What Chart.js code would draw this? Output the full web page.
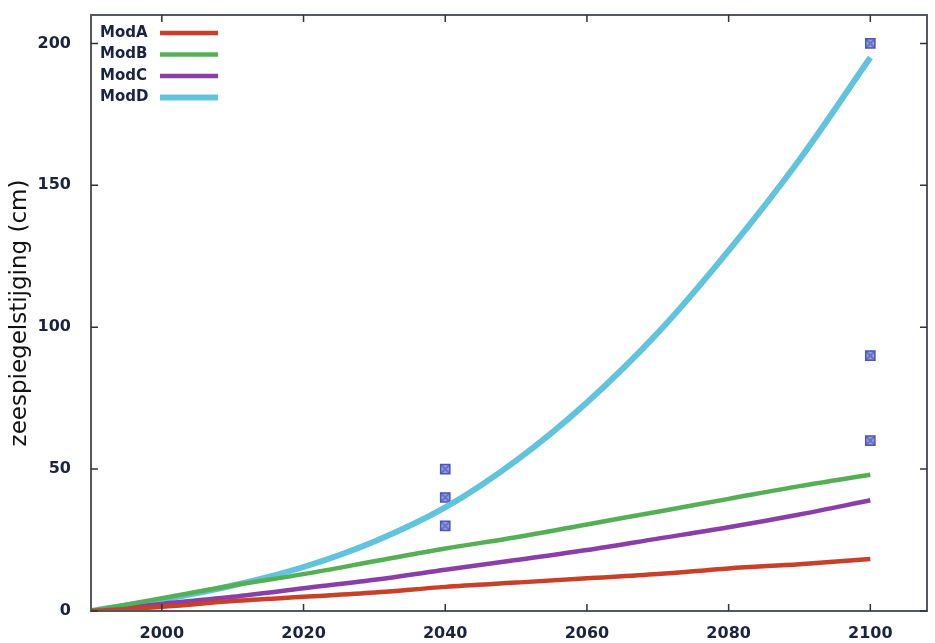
<!DOCTYPE html>
<html>
<head>
<meta charset="utf-8">
<script src="https://cdn.jsdelivr.net/npm/chart.js@4"></script>
<style>
  html, body { margin: 0; padding: 0; background: #fff; }
  #wrap { width: 935px; height: 643px; }
</style>
</head>
<body>
<div id="wrap"><canvas id="chart" width="935" height="643"></canvas></div>
<script>
const years = [1990, 2000, 2010, 2020, 2030, 2040, 2050, 2060, 2070, 2080, 2090, 2100]
const modA = [0, 1.5, 3.5, 5, 6.5, 8.5, 10, 11.5, 13, 15, 16.5, 18.3]
const modB = [0, 4.5, 9, 13, 17.5, 22, 26, 30.5, 35, 39.5, 44, 48]
const modC = [0, 2.5, 5, 8, 11, 14.5, 18, 21.5, 25.5, 29.5, 34, 39]
const modD = [0, 4, 9, 15.5, 24.5, 36.5, 53, 73.5, 98, 127, 159, 195]

const obsYears = [2040, 2040, 2040, 2100, 2100, 2100]
const obsValues = [30, 40, 50, 60, 90, 200]

const xTicks = [2000, 2020, 2040, 2060, 2080, 2100]
const yTicks = [0, 50, 100, 150, 200]

const tickFont = { family: 'DejaVu Sans', weight: 'bold', size: 16 }
const tickColor = '#1c2340'

function pts(ys) {
    return years.map((x, i) => ({ x: x, y: ys[i] }))
}

function lineSet(label, ys, color, width) {
    return {
        label: label,
        data: pts(ys),
        borderColor: color,
        backgroundColor: color,
        borderWidth: width,
        pointRadius: 0,
        cubicInterpolationMode: 'monotone',
        fill: false
    }
}

const obs = obsYears.map((x, i) => ({ x: x, y: obsValues[i] }))

// gnuplot style: ticks inside, mirrored on top/right, framed plot
const framePlugin = {
    id: 'frame',
    afterDatasetsDraw(chart) {
        const c = chart.ctx, a = chart.chartArea
        const xs = chart.scales.x, ys = chart.scales.y
        c.save()
        c.strokeStyle = '#55585e'
        c.lineWidth = 2
        c.strokeRect(a.left, a.top, a.right - a.left, a.bottom - a.top)
        c.lineWidth = 1.5
        c.strokeStyle = '#333'
        c.beginPath()
        xTicks.forEach(v => {
            const px = xs.getPixelForValue(v)
            c.moveTo(px, a.bottom); c.lineTo(px, a.bottom - 7)
            c.moveTo(px, a.top); c.lineTo(px, a.top + 7)
        })
        yTicks.forEach(v => {
            const py = ys.getPixelForValue(v)
            c.moveTo(a.left, py); c.lineTo(a.left + 7, py)
            c.moveTo(a.right, py); c.lineTo(a.right - 7, py)
        })
        c.stroke()

        // legend inside top-left
        c.font = 'bold 15px "DejaVu Sans"'
        c.fillStyle = tickColor
        c.textBaseline = 'middle'
        const lines = chart.data.datasets.slice(0, 4)
        lines.forEach((d, i) => {
            const y = a.top + 18 + i * 21.5
            c.fillText(d.label, a.left + 9, y)
            c.strokeStyle = d.borderColor
            c.lineWidth = d.borderWidth
            c.beginPath()
            c.moveTo(a.left + 69, y)
            c.lineTo(a.left + 127, y)
            c.stroke()
        })
        c.restore()
    }
}

const ctx = document.getElementById('chart').getContext('2d')

const chart = new Chart(ctx, {
    type: 'line',
    data: {
        datasets: [
            lineSet('ModA', modA, '#c8402a', 4.5),
            lineSet('ModB', modB, '#55b055', 4.5),
            lineSet('ModC', modC, '#8a3fa8', 4.5),
            lineSet('ModD', modD, '#62c3dc', 6),
            {
                label: 'obs',
                type: 'scatter',
                data: obs,
                pointStyle: 'rect',
                pointRadius: 6.5,
                backgroundColor: 'rgba(120,130,215,0.8)',
                borderColor: '#4b55b8',
                borderWidth: 1.5
            },
            {
                label: 'obsX',
                type: 'scatter',
                data: obs,
                pointStyle: 'crossRot',
                pointRadius: 6,
                borderColor: '#262a78',
                borderWidth: 1.8
            }
        ]
    },
    options: {
        responsive: false,
        animation: false,
        layout: { padding: { top: 15, right: 5, left: 0, bottom: 0 } },
        plugins: {
            legend: { display: false },
            tooltip: { enabled: false }
        },
        scales: {
            x: {
                type: 'linear',
                min: 1990,
                max: 2108,
                afterBuildTicks: s => { s.ticks = xTicks.map(v => ({ value: v })) },
                afterFit: s => { s.height = 32 },
                grid: { display: false },
                border: { display: false },
                ticks: {
                    font: tickFont,
                    color: tickColor,
                    padding: 5,
                    maxRotation: 0,
                    callback: v => String(v)
                }
            },
            y: {
                min: 0,
                max: 210,
                afterBuildTicks: s => { s.ticks = yTicks.map(v => ({ value: v })) },
                afterFit: s => { s.width = 91; s.paddingTop = 0; s.paddingBottom = 0 },
                grid: { display: false },
                border: { display: false },
                ticks: {
                    font: tickFont,
                    color: tickColor,
                    padding: 12,
                    callback: v => String(v)
                },
                title: {
                    display: true,
                    text: 'zeespiegelstijging (cm)',
                    color: '#111',
                    font: { family: 'DejaVu Sans', size: 23 },
                    padding: { top: 6, bottom: 0 }
                }
            }
        }
    },
    plugins: [framePlugin]
})
</script>
</body>
</html>
